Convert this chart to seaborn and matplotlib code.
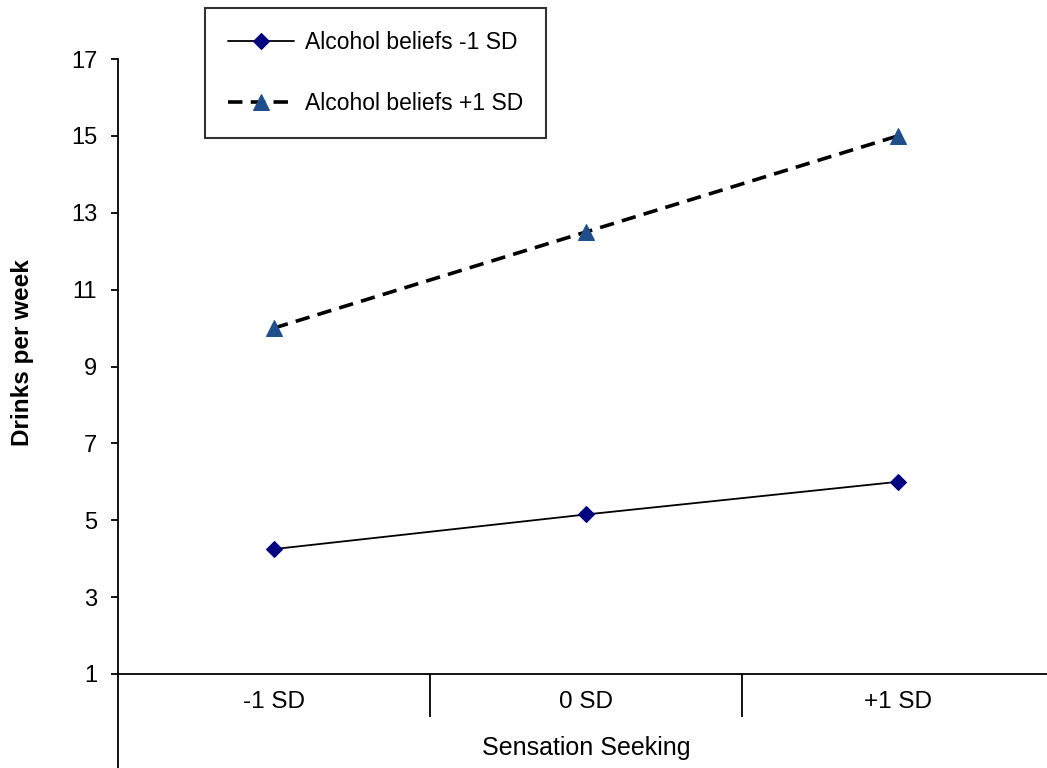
import matplotlib
matplotlib.use("Agg")
import matplotlib.pyplot as plt
import seaborn as sns
import pandas as pd

categories = ["-1 SD", "0 SD", "+1 SD"]
low_beliefs = [4.25, 5.15, 6.0]
high_beliefs = [10.0, 12.5, 15.0]
series_labels = ["Alcohol beliefs -1 SD", "Alcohol beliefs +1 SD"]
y_ticks = [1, 3, 5, 7, 9, 11, 13, 15, 17]

sns.set_style("white")
plt.rcParams['font.family'] = ['Liberation Sans', 'DejaVu Sans']
plt.rcParams['text.color'] = 'black'
plt.rcParams['axes.labelcolor'] = 'black'
plt.rcParams['xtick.color'] = 'black'
plt.rcParams['ytick.color'] = 'black'

df_low = pd.DataFrame({"x": range(len(categories)), "y": low_beliefs})
df_high = pd.DataFrame({"x": range(len(categories)), "y": high_beliefs})

fig = plt.figure(figsize=(10.47, 7.68), dpi=100)
ax = fig.add_axes([118/1047, 0.0, 1 - 118/1047, 1 - 59/768])

sns.lineplot(data=df_low, x="x", y="y", ax=ax, color="black", linewidth=1.3,
             marker="D", markersize=8.5, markerfacecolor="#000080",
             markeredgecolor="#000080", label=series_labels[0])
sns.lineplot(data=df_high, x="x", y="y", ax=ax, color="black", linewidth=2.6,
             dashes=False, marker="^", markersize=11.5, markerfacecolor="#1F4E8A",
             markeredgecolor="#1F4E8A", label=series_labels[1])
ax.lines[1].set_dashes([4, 2.3])

ax.set_xlim(-0.5, 2.478)
ax.set_ylim(17 - (768 - 59) / ((674 - 59) / 16), 17)

for s in ["top", "right"]:
    ax.spines[s].set_visible(False)
ax.spines["bottom"].set_position(("data", 1))
for s in ["left", "bottom"]:
    ax.spines[s].set_linewidth(1.3)
    ax.spines[s].set_color("black")

ax.set_yticks(y_ticks)
ax.set_yticklabels([str(t) for t in y_ticks], fontsize=17)
ax.tick_params(axis="y", direction="out", length=5, width=1.3, pad=10, left=True)

ax.set_xticks(range(len(categories)))
ax.set_xticklabels(categories, fontsize=17.5)
ax.tick_params(axis="x", which="major", length=0, pad=12)
ax.set_xticks([0.5, 1.5], minor=True)
ax.tick_params(axis="x", which="minor", direction="out", length=31, width=1.3, bottom=True)

ax.set_xlabel("Sensation Seeking", fontsize=18)
ax.set_ylabel("Drinks per week", fontsize=17.5, fontweight="bold")
ax.yaxis.set_label_coords(-(118 - 23) / 929, (768 - 353) / 709)
ax.xaxis.set_label_coords((586 - 118) / 929, (768 - 748) / 709)
ax.xaxis.label.set_va("center")
ax.yaxis.label.set_va("center")

ax.get_legend().remove()
handles, labels = ax.get_legend_handles_labels()
leg = fig.legend(handles, labels, loc="upper left",
                 bbox_to_anchor=(205 / 1047, 1 - 8 / 768), borderaxespad=0,
                 fontsize=16.5, frameon=True, fancybox=False, handlelength=2.9,
                 labelspacing=1.65, borderpad=1.0, handletextpad=0.45)
leg.get_frame().set_edgecolor("black")
leg.get_frame().set_linewidth(1.5)

fig.savefig("out.png", dpi=100)
